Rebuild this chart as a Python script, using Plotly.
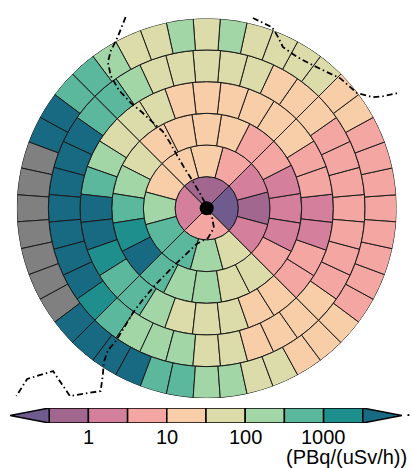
import numpy as np
import plotly.graph_objects as go

# ---------------- data ----------------
# colour-class boundaries (PBq/(uSv/h))
bounds = [0.3, 1, 3, 10, 30, 100, 300, 1000, 3000]
class_colors = ["#6f5b8d", "#a2678f", "#d4809c", "#f4a7a2", "#f8cea8",
                "#dcdcaa", "#a3d6a7", "#5cb89d", "#1f8f8e", "#176a82"]
missing_color = "#808080"

# values per ring, starting at east (0 deg) going counter-clockwise
ring1 = [0.2, 0.5, 2, 5]
ring2 = [0.5, 2, 5, 20, 20, 20, 200, 500, 500, 200, 50, 2]
ring3 = [2, 2, 5, 5, 20, 20, 20, 20, 50, 200,
         500, 2000, 5000, 500, 200, 200, 50, 50, 5, 2]
ring4 = [2, 5, 5, 20, 20, 20, 20, 20, 20, 50, 50, 50, 200, 500,
         5000, 5000, 2000, 500, 500, 200, 50, 50, 50, 20, 20, 5, 5, 2]
ring5 = [5, 5, 5, 5, 20, 20, 20, 50, 50, 50, 50, 50, 200, 500, 500, 5000, 5000, 5000,
         5000, 5000, 5000, 5000, 2000, 500, 200, 200, 200, 50, 50, 20, 20, 20, 20, 5, 5, 5]
ring6 = [5, 5, 5, 5, 20, 20, 50, 50, 50, 50, 200, 50, 200, 50, 50, 200, 500, 500, 5000, 5000,
         None, None, None, None, None, None, None, 5000, 5000, 5000, 5000, 500, 500, 200,
         200, 50, 50, 20, 20, 20, 5, 5, 5, 5]
rings = [ring1, ring2, ring3, ring4, ring5, ring6]

# dash-dot outlines, in ring units (x east, y north, centre = 0,0)
line1_x = [-2.56, -2.81, -3.03, -3.12, -3.03, -2.78, -2.40, -2.05, -1.71, -1.39, -1.17, -0.94,
           -0.72, -0.46, -0.24, -0.05, 0.17, 0.23, 0.04, -0.31, -0.94, -1.57, -2.02, -2.33,
           -2.65, -2.87, -3.12, -3.25, -3.28, -3.35, -4.32, -4.85, -5.67, -6.01]
line1_y = [6.04, 5.41, 4.97, 4.61, 4.19, 3.74, 3.33, 3.04, 2.72, 2.43, 2.09, 1.68,
           1.30, 0.89, 0.52, 0.17, -0.28, -0.62, -0.94, -1.12, -1.72, -2.36, -2.89, -3.30,
           -3.84, -4.19, -4.49, -4.86, -5.27, -5.77, -5.93, -5.14, -5.39, -5.93]
line2_x = [1.46, 2.06, 2.22, 2.41, 2.85, 3.35, 3.80, 4.21, 4.46, 4.74, 5.25, 5.57, 6.04]
line2_y = [6.01, 5.72, 5.47, 5.09, 4.78, 4.52, 4.30, 4.11, 3.89, 3.64, 3.51, 3.54, 3.64]
line3_x = [6.34, 6.40]
line3_y = [-6.53, -6.53]
lines = [(line1_x, line1_y), (line2_x, line2_y), (line3_x, line3_y)]

unit_label = "(PBq/(uSv/h))"

# ---------------- figure ----------------
W, H = 411, 468
cx, cy, R = 206.7, 208.3, 190.0
s = R / len(rings)          # pixels per ring unit


def class_of(v):
    return int(np.searchsorted(bounds, v, side="right"))


fig = go.Figure()
for k, vals in enumerate(rings):
    n = len(vals)
    step = 360.0 / n
    cols = [missing_color if v is None else class_colors[class_of(v)] for v in vals]
    fig.add_trace(go.Barpolar(
        r=[1] * n, base=[k] * n,
        theta=[i * step for i in range(n)], width=[step] * n,
        marker=dict(color=cols, line=dict(color="#1a1a1a", width=1)),
        hoverinfo="skip", subplot="polar"))

fig.add_trace(go.Scatterpolar(r=[0], theta=[0], mode="markers",
                              marker=dict(color="black", size=14),
                              hoverinfo="skip", subplot="polar"))

# colour bar (bin index axis)
nb = len(bounds) - 1
fig.add_trace(go.Bar(x=[i + 0.5 for i in range(nb)], y=[1] * nb, width=1,
                     marker=dict(color=class_colors[1:-1], line=dict(color="black", width=1.5)),
                     xaxis="x", yaxis="y", hoverinfo="skip"))
fig.add_trace(go.Scatter(x=[0, -1, 0, 0], y=[0, 0.5, 1, 0], fill="toself", mode="lines",
                         fillcolor=class_colors[0], line=dict(color="black", width=1.5),
                         xaxis="x", yaxis="y", hoverinfo="skip"))
fig.add_trace(go.Scatter(x=[nb, nb + 1, nb, nb], y=[0, 0.5, 1, 0], fill="toself", mode="lines",
                         fillcolor=class_colors[-1], line=dict(color="black", width=1.5),
                         xaxis="x", yaxis="y", hoverinfo="skip"))

# full-figure overlay axes in ring units for the outline
fig.add_trace(go.Scatter(x=[0], y=[0], mode="markers", marker=dict(opacity=0),
                         xaxis="x2", yaxis="y2", hoverinfo="skip"))
shapes = []
for lx, ly in lines:
    path = "M " + " L ".join(f"{a},{b}" for a, b in zip(lx, ly))
    shapes.append(dict(type="path", path=path, xref="x2", yref="y2", layer="above",
                       line=dict(color="black", width=1.8, dash="6px,3px,1.5px,3px")))

tick_idx = [1, 3, 5, 7]
annotations = [dict(text=f"{bounds[i]:g}", x=i, xref="x", y=(H - 437) / H, yref="paper",
                    xanchor="center", yanchor="middle", showarrow=False,
                    font=dict(family="Liberation Sans", size=20, color="black"))
               for i in tick_idx]
annotations.append(dict(text=unit_label, x=409 / W, y=(H - 457) / H, xref="paper", yref="paper",
                        xanchor="right", yanchor="middle", showarrow=False,
                        font=dict(family="Liberation Sans", size=20, color="black")))

fig.update_layout(
    width=W, height=H, margin=dict(l=0, r=0, t=0, b=0),
    paper_bgcolor="white", plot_bgcolor="rgba(0,0,0,0)", showlegend=False,
    polar=dict(
        domain=dict(x=[(cx - R) / W, (cx + R) / W], y=[(H - cy - R) / H, (H - cy + R) / H]),
        bgcolor="white", bargap=0,
        radialaxis=dict(range=[0, len(rings)], visible=False),
        angularaxis=dict(rotation=0, direction="counterclockwise", visible=False),
    ),
    xaxis=dict(domain=[10 / W, 402 / W], range=[-1, nb + 1], visible=False, fixedrange=True),
    yaxis=dict(domain=[(H - 423) / H, (H - 408) / H], range=[0, 1], visible=False, fixedrange=True),
    xaxis2=dict(domain=[0, 1], range=[-cx / s, (W - cx) / s], visible=False, anchor="y2",
                fixedrange=True),
    yaxis2=dict(domain=[0, 1], range=[(cy - H) / s, cy / s], visible=False, anchor="x2",
                fixedrange=True),
    shapes=shapes,
    annotations=annotations,
)

fig.write_html("out.html", config={"displayModeBar": False, "staticPlot": True},
               post_script="document.body.style.margin='0px';")
